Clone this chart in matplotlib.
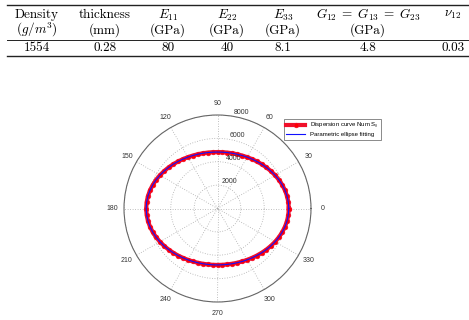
import numpy as np
import matplotlib
matplotlib.use("Agg")
import matplotlib.pyplot as plt
from matplotlib.lines import Line2D

# table contents
col_head1 = ["Density", "thickness", "$E_{11}$", "$E_{22}$", "$E_{33}$",
             r"$G_{12}\;=\;G_{13}\;=\;G_{23}$", r"$\nu_{12}$"]
col_head2 = ["$(g/m^3)$", "(mm)", "(GPa)", "(GPa)", "(GPa)", "(GPa)", ""]
row_values = ["1554", "0.28", "80", "40", "8.1", "4.8", "0.03"]

# dispersion curve, first quadrant (deg, m/s); orthotropic so mirrored to 360
quad_angles = [0, 5, 10, 15, 20, 25, 30, 35, 40, 45, 50, 55, 60, 65, 70, 75, 80, 85, 90]
quad_speed = [6100, 6086, 6046, 5982, 5898, 5800, 5691, 5578, 5465, 5355,
              5252, 5157, 5072, 4999, 4939, 4892, 4857, 4837, 4830]

ring_values = [2000, 4000, 6000, 8000]
spoke_angles = [0, 30, 60, 90, 120, 150, 180, 210, 240, 270, 300, 330]

plt.rcParams["mathtext.fontset"] = "cm"

W, H = 469, 320
fig = plt.figure(figsize=(W / 100, H / 100), dpi=100)


def fx(px):
    return px / W


def fy(py):
    return 1 - py / H


# ----------------------------------------------------
# Table
# ----------------------------------------------------
col_x = [37, 105, 168, 227, 283, 368, 453]
tkw = dict(ha="center", va="center", fontsize=9.5, family="cmr10")
for x, h1, h2, v in zip(col_x, col_head1, col_head2, row_values):
    fig.text(fx(x), fy(15), h1, **tkw)
    if h2:
        fig.text(fx(x), fy(30), h2, **tkw)
    fig.text(fx(x), fy(48), v, **tkw)

for y, lw in [(5, 1.0), (39.5, 0.7), (56, 1.0)]:
    fig.add_artist(Line2D([fx(7), fx(468)], [fy(y), fy(y)], color="#222222", lw=lw))

# ----------------------------------------------------
# Polar plot
# ----------------------------------------------------
cx, cy, rad = 217.5, 208.5, 93.5
ax = fig.add_axes([fx(cx - rad), fy(cy + rad), 2 * rad / W, 2 * rad / H],
                  projection="polar")

a = np.array(quad_angles, dtype=float)
s = np.array(quad_speed, dtype=float)
ang = np.concatenate([a, 180 - a[::-1][1:], 180 + a[1:], 360 - a[::-1][1:]])
spd = np.concatenate([s, s[::-1][1:], s[1:], s[::-1][1:]])
th = np.deg2rad(ang)

ax.plot(th, spd, color="#f0102a", lw=3.0, marker="o", markersize=3.4,
        markerfacecolor="#ff0000", markeredgecolor="#f0103a", markeredgewidth=0.4,
        label="Dispersion curve Num S$_0$", zorder=3)
ax.plot(th, spd, color="#1010ff", lw=0.8, label="Parametric ellipse fitting", zorder=4)

ax.set_ylim(0, 8000)
ax.set_rgrids(ring_values, labels=[""] * len(ring_values))
ax.set_thetagrids(spoke_angles, labels=[""] * len(spoke_angles))
ax.grid(True, color="#aaaaaa", linestyle=(0, (1, 2)), linewidth=0.6)
ax.spines["polar"].set_color("#666666")
ax.spines["polar"].set_linewidth(0.8)
ax.tick_params(length=0)

lab_kw = dict(fontsize=5, color="#333333", family="Liberation Sans")
for d in spoke_angles:
    ax.text(np.deg2rad(d), 8000 * 1.12, str(d), ha="center", va="center",
            clip_on=False, **lab_kw)
for r in ring_values:
    ax.text(np.deg2rad(80), r, str(r), ha="left", va="bottom", clip_on=False, **lab_kw)

leg = ax.legend(loc="upper left", bbox_to_anchor=(fx(281), fy(116)),
                bbox_transform=fig.transFigure, frameon=True,
                fancybox=False, borderpad=0.4, handlelength=3.2, labelspacing=0.3,
                prop={"family": "Liberation Sans", "size": 4.3})
leg.get_frame().set_edgecolor("#555555")
leg.get_frame().set_linewidth(0.6)

fig.savefig("out.png", dpi=100)
